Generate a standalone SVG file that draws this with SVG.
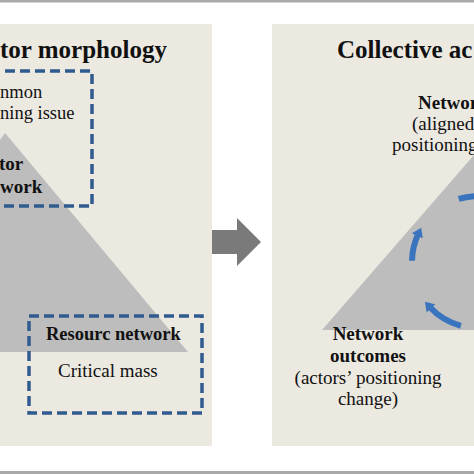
<svg xmlns="http://www.w3.org/2000/svg" width="474" height="474" viewBox="0 0 474 474">
<style>
.panel{fill:#ece9e1}
.tri{fill:#bdbdbd}
.dash{fill:none;stroke:#2f5b8e;stroke-width:3.5;stroke-dasharray:10 5}
.t{font-family:"Liberation Serif","Times New Roman",serif;fill:#111}
.title{font-size:25px;font-weight:bold}
.b{font-weight:bold}
.cyc{fill:none;stroke:#3a74bf;stroke-width:6}
</style>
<defs>
<marker id="ah" markerUnits="userSpaceOnUse" markerWidth="12" markerHeight="13" refX="2" refY="6.5" orient="auto">
<path d="M0,0.5 L9,6.5 L0,12.5 z" fill="#3a74bf"/>
</marker>
</defs>
<rect x="0" y="0" width="474" height="474" fill="#ffffff"/>
<rect x="0" y="0" width="474" height="2.5" fill="#a9a9a9"/>
<rect x="0" y="471" width="474" height="3" fill="#a9a9a9"/>

<g id="panel-left">
<rect class="panel" x="0" y="24" width="212" height="422"/>
<polygon class="tri" points="5,133 188,352 0,352 0,140"/>
<text class="t title" x="0" y="58">tor morphology</text>
</g>
<g id="panel-right">
<rect class="panel" x="272" y="24" width="210" height="422"/>
<polygon class="tri" points="322,330 480,330 480,148"/>
<text class="t title" x="337" y="58">Collective ac</text>
</g>

<g id="node-common-issue">
<rect class="dash" x="-10" y="71" width="102" height="135"/>
<text class="t" font-size="18.5" x="0" y="98">nmon</text>
<text class="t" font-size="18.5" x="0" y="119">ning issue</text>
</g>
<g id="node-actor-network">
<text class="t b" font-size="19" x="-1" y="170">tor</text>
<text class="t b" font-size="19" x="0" y="193">work</text>
</g>
<g id="node-resource-network">
<rect class="dash" x="29" y="316" width="173" height="97"/>
<text class="t b" font-size="18.5" x="46" y="340">Resourc network</text>
<text class="t" font-size="19" x="58" y="377">Critical mass</text>
</g>
<g id="node-network-top">
<text class="t b" font-size="19" x="418" y="109">Networ</text>
<text class="t" font-size="19" x="412" y="130">(aligned</text>
<text class="t" font-size="19" x="392" y="151">positioning</text>
</g>
<g id="node-network-outcomes" text-anchor="middle">
<text class="t b" font-size="19" x="368" y="340">Network</text>
<text class="t b" font-size="19" x="368" y="362">outcomes</text>
<text class="t" font-size="19" x="368" y="384">(actors’ positioning</text>
<text class="t" font-size="19" x="368" y="405">change)</text>
</g>

<g id="connectors">
<polygon points="212,230 237,230 237,218 261,242 237,266 237,254 212,254" fill="#7a7a7a"/>
<path class="cyc" d="M412.0,260.8 A66,66 0 0 1 418.2,234.1" marker-end="url(#ah)"/>
<path class="cyc" d="M458.7,198.9 A66,66 0 0 1 483.8,196.3"/>
<path class="cyc" d="M460.9,325.8 A66,66 0 0 1 429.7,307.0" marker-end="url(#ah)"/>
</g>
</svg>
